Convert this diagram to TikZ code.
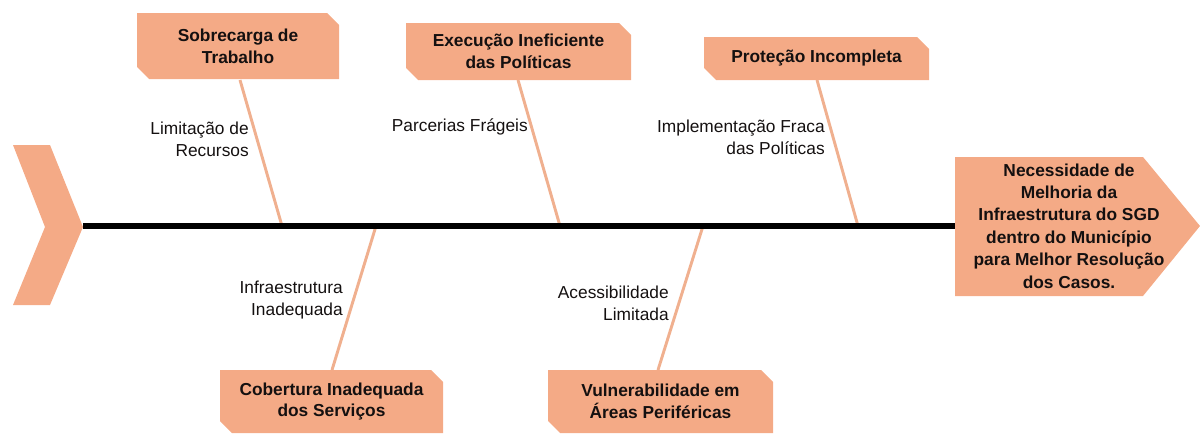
\documentclass[tikz,border=0pt]{standalone}
\usepackage{fontspec}
\setmainfont{Liberation Sans}
\usetikzlibrary{shapes.misc}
\definecolor{peach}{RGB}{244,170,134}
\definecolor{bone}{RGB}{240,176,143}
\definecolor{ink}{RGB}{20,16,16}
\tikzset{
  x=0.75pt, y=-0.75pt,
  causebox/.style={chamfered rectangle, chamfered rectangle corners={north east,south west},
    chamfered rectangle xsep=4.5pt, chamfered rectangle ysep=4.5pt,
    fill=peach, draw=none, inner sep=0pt, align=center, text=ink,
    font=\fontsize{13}{16.3}\selectfont\bfseries},
  lbl/.style={inner sep=0pt, align=right, text=ink, font=\fontsize{13}{16.3}\selectfont, anchor=east},
  bonestyle/.style={draw=bone, line width=2.2pt},
  spine/.style={draw=black, line width=3.8pt},
}
\begin{document}
\begin{tikzpicture}
\useasboundingbox (0,0) rectangle (1200,439);
% tail chevron
\fill[peach] (13,145) -- (50,145) -- (83,227) -- (50,305) -- (13,305) -- (45,227) -- cycle;
\coordinate (tail) at (83,226);
% effect head
\fill[peach] (955,157) -- (1143,157) -- (1200,226) -- (1143,296) -- (955,296) -- cycle;
\coordinate (head) at (955,226);
\node[inner sep=0pt, align=center, text=ink, font=\fontsize{13}{16.8}\selectfont\bfseries] (effect) at (1069,226)
  {Necessidade de\\Melhoria da\\Infraestrutura do SGD\\dentro do Município\\para Melhor Resolução\\dos Casos.};
% spine points
\coordinate (s1) at (282,226);
\coordinate (s2) at (560,226);
\coordinate (s3) at (858,226);
\coordinate (s4) at (376,226);
\coordinate (s5) at (703,226);
% bones
\draw[bonestyle] (240,80) -- (s1);
\draw[bonestyle] (518,80) -- (s2);
\draw[bonestyle] (817,80) -- (s3);
\draw[bonestyle] (332,370) -- (s4);
\draw[bonestyle] (658,370) -- (s5);
% spine
\draw[spine] (tail) -- (head);
% cause boxes
\node[causebox, minimum width=202*0.75pt, minimum height=66*0.75pt] (c1) at (238,46) {Sobrecarga de\\Trabalho};
\node[causebox, minimum width=225*0.75pt, minimum height=57*0.75pt] (c2) at (518.5,51.5) {Execução Ineficiente\\das Políticas};
\node[causebox, minimum width=225*0.75pt, minimum height=43*0.75pt] (c3) at (816.5,58.5) {Proteção Incompleta};
\node[causebox, minimum width=223*0.75pt, minimum height=63*0.75pt] (c4) at (331.5,401.5) {Cobertura Inadequada\\dos Serviços};
\node[causebox, minimum width=225*0.75pt, minimum height=63*0.75pt] (c5) at (660.5,401.5) {Vulnerabilidade em\\Áreas Periféricas};
% sub-cause labels
\node[lbl] (l1) at (249,139) {Limitação de\\Recursos};
\node[lbl] (l2) at (528,127) {Parcerias Frágeis};
\node[lbl] (l3) at (825,137) {Implementação Fraca\\das Políticas};
\node[lbl] (l4) at (343,300) {Infraestrutura\\Inadequada};
\node[lbl] (l5) at (669,303) {Acessibilidade\\Limitada};
\end{tikzpicture}
\end{document}
